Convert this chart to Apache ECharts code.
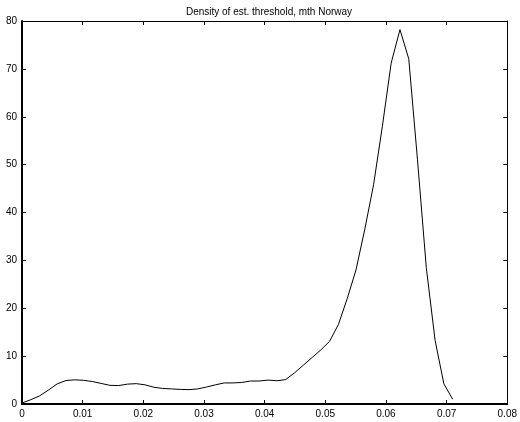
<!DOCTYPE html>
<html>
<head>
<meta charset="utf-8">
<script src="https://cdn.jsdelivr.net/npm/echarts@6/dist/echarts.min.js"></script>
<style>
  html, body { margin: 0; padding: 0; background: #fff; }
  #chart { width: 520px; height: 422px; }
</style>
</head>
<body>
<div id="chart"></div>
<script>
// 曲线的数据
var thresholds = [0, 0.00145, 0.0029, 0.00435, 0.0058, 0.00724, 0.00869, 0.01014, 0.01159, 0.01304,
  0.01449, 0.01594, 0.01739, 0.01884, 0.02029, 0.02173, 0.02318, 0.02463, 0.02608, 0.02753,
  0.02898, 0.03043, 0.03188, 0.03333, 0.03478, 0.03622, 0.03767, 0.03912, 0.04057, 0.04202,
  0.04347, 0.04492, 0.04637, 0.04782, 0.04927, 0.05071, 0.05216, 0.05361, 0.05506, 0.05651,
  0.05796, 0.05941, 0.06086, 0.06231, 0.06376, 0.0652, 0.06665, 0.0681, 0.06955, 0.071];
var density = [0.2, 0.9, 1.7, 2.9, 4.2, 4.9, 5.05, 4.95, 4.7, 4.3,
  3.9, 3.85, 4.15, 4.25, 4.0, 3.5, 3.25, 3.15, 3.05, 3.0,
  3.15, 3.55, 4.0, 4.4, 4.4, 4.5, 4.8, 4.8, 5.0, 4.85,
  5.1, 6.5, 8.1, 9.7, 11.3, 13.1, 16.6, 22, 28, 36.5,
  45.8, 58, 71.2, 78.2, 72.1, 51, 28.5, 13.3, 4.2, 1.0];
var titleText = 'Density of est. threshold, mth Norway';
var xTicks = [0, 0.08, 0.01];   // min, max, step
var yTicks = [0, 80, 10];

var chart = echarts.init(document.getElementById('chart'));
var font = 'Liberation Sans, Arial, sans-serif';

function axisBase(show) {
  return {
    axisLine: { show: true, onZero: false, lineStyle: { color: '#000', width: show ? 2 : 1 } },
    axisTick: { show: true, inside: true, length: 4, lineStyle: { color: '#000', width: 1 } },
    axisLabel: { show: show, color: '#000', fontSize: 10, fontFamily: font },
    splitLine: { show: false }
  };
}

var x0 = Object.assign(axisBase(true), {
  type: 'value', position: 'bottom', min: xTicks[0], max: xTicks[1], interval: xTicks[2]
});
x0.axisLabel.margin = 5;
x0.axisLabel.formatter = function (v) { return String(+v.toFixed(2)); };
var x1 = Object.assign(axisBase(false), {
  type: 'value', position: 'top', min: xTicks[0], max: xTicks[1], interval: xTicks[2]
});
var y0 = Object.assign(axisBase(true), {
  type: 'value', position: 'left', min: yTicks[0], max: yTicks[1], interval: yTicks[2]
});
y0.axisLabel.margin = 5;
var y1 = Object.assign(axisBase(false), {
  type: 'value', position: 'right', min: yTicks[0], max: yTicks[1], interval: yTicks[2]
});

chart.setOption({
  animation: false,
  backgroundColor: '#fff',
  title: {
    text: titleText, left: 264, top: 2, textAlign: 'center',
    textStyle: { fontSize: 10, fontWeight: 'normal', color: '#000', fontFamily: font }
  },
  grid: { left: 22, right: 10, top: 21, bottom: 18 },
  xAxis: [x0, x1],
  yAxis: [y0, y1],
  series: [{
    type: 'line',
    xAxisIndex: 0, yAxisIndex: 0,
    showSymbol: false,
    lineStyle: { color: '#000', width: 1 },
    data: thresholds.map(function (t, i) { return [t, density[i]]; })
  }]
});
</script>
</body>
</html>
